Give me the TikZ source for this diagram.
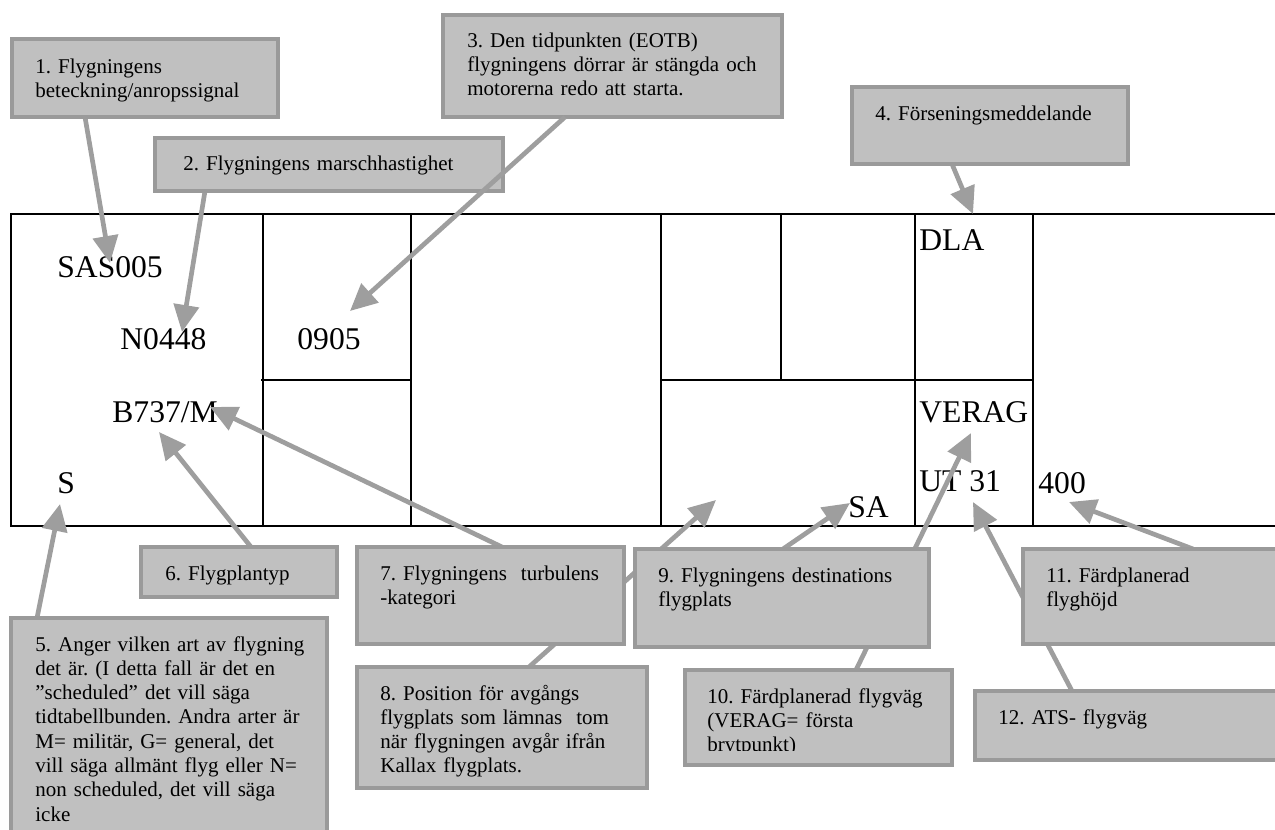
\documentclass[tikz,border=0pt]{standalone}
\usepackage{fontspec}
\setmainfont{Liberation Serif}
\usetikzlibrary{arrows.meta,calc}
\frenchspacing
\definecolor{boxfill}{HTML}{C0C0C0}
\definecolor{boxedge}{HTML}{9A9A9A}
\definecolor{linkgray}{HTML}{9E9E9E}
\pgfdeclarelayer{strip}
\pgfdeclarelayer{links}
\pgfsetlayers{strip,links,main}
\tikzset{
  grid/.style={line width=1pt, black},
  cell/.style={anchor=base west, inner sep=0pt, font=\fontsize{15.8pt}{18pt}\selectfont},
  box/.style={draw=boxedge, fill=boxfill, line width=2pt, inner sep=0pt, outer sep=0pt, anchor=north west},
  note/.style={anchor=base west, inner sep=0pt, align=left, text width=170pt,
    font=\fontsize{10.5pt}{12.15pt}\selectfont},
  link/.style={draw=linkgray, line width=2.35pt, -{Triangle[length=13.5pt,width=12.5pt]}},
}
% callout box given by its corners (x1,y1) and (x2,y2)
\newcommand\calloutbox[5]{\node[box, minimum width={(#4-#2)*0.5pt}, minimum height={(#5-#3)*0.5pt}] (#1) at (#2,#3) {};}
\begin{document}
\begin{tikzpicture}[x=0.5pt, y=-0.5pt]
\useasboundingbox (0,0) rectangle (1275,830);

% flight progress strip
\begin{pgfonlayer}{strip}
  \draw[grid] (1300,214) -- (11,214) -- (11,526) -- (1300,526);
  \foreach \x in {263,411,661,915,1033} \draw[grid] (\x,214) -- (\x,526);
  \draw[grid] (781,214) -- (781,380);
  \draw[grid] (261,380) -- (411,380);
  \draw[grid] (661,380) -- (1033,380);
  \node[cell] (sas)  at (57,277)   {SAS005};
  \node[cell] (spd)  at (120,349)  {N0448};
  \node[cell] (eobt) at (297,349)  {0905};
  \node[cell] (typ)  at (112,422)  {B737/M};
  \node[cell] (flt)  at (57,493)   {S};
  \node[cell] (dla)  at (919,250)  {DLA};
  \node[cell] (rte)  at (919,422)  {VERAG};
  \node[cell] (ats)  at (919,491)  {UT 31};
  \node[cell] (lvl)  at (1038,493) {400};
  \node[cell] (dst)  at (848,517)  {SA};
\end{pgfonlayer}

% arrow targets
\coordinate (p1)  at (110,263);
\coordinate (p2)  at (182,332);
\coordinate (p3)  at (350,311);
\coordinate (p4)  at (973,214);
\coordinate (p5)  at (60,504);
\coordinate (p6)  at (159,432);
\coordinate (p7)  at (210,407);
\coordinate (p8)  at (716,500);
\coordinate (p9)  at (850,503);
\coordinate (p10) at (971,433);
\coordinate (p11) at (1069,502);
\coordinate (p12) at (973,502);

% callout boxes
\calloutbox{b1}{12}{39}{278}{117}
\calloutbox{b2}{155}{138}{503}{191}
\calloutbox{b3}{443}{15}{782}{117}
\calloutbox{b4}{852}{87}{1128}{164}
\calloutbox{b5}{11}{618}{327}{850}
\calloutbox{b6}{141}{547}{337}{597}
\calloutbox{b7}{357}{547}{624}{644}
\calloutbox{b8}{357}{667}{647}{788}
\calloutbox{b9}{635}{549}{929}{647}
\calloutbox{b10}{685}{670}{952}{765}
\calloutbox{b11}{1023}{549}{1300}{644}
\calloutbox{b12}{975}{691}{1300}{760}

% connectors behind the boxes
\begin{pgfonlayer}{links}
  \draw[link] ($(b1.south west)+(73,0)$)  -- (p1);
  \draw[link] ($(b2.south west)+(50,0)$)  -- (p2);
  \draw[link] ($(b4.south west)+(100,0)$) -- (p4);
  \draw[link] ($(b5.north west)+(26,0)$)  -- (p5);
  \draw[link] ($(b6.north west)+(110,0)$) -- (p6);
  \draw[link] ($(b7.north west)+(145,0)$) -- (p7);
  \draw[link] ($(b8.north west)+(172,0)$) -- (p8);
  \draw[link] ($(b9.north west)+(148,0)$) -- (p9);
  \draw[link] ($(b10.north west)+(171,0)$) -- (p10);
  \draw[link] ($(b11.north west)+(170,0)$) -- (p11);
  \draw[link] ($(b12.north west)+(97,0)$) -- (p12);
\end{pgfonlayer}
% this one runs across box 2
\draw[link] ($(b3.south west)+(122,0)$) -- (p3);

% callout texts
\node[note] (t1) at ($(b1.north west)+(23,34)$) {1. Flygningens\\beteckning/anropssignal};
\node[note] (t2) at ($(b2.north west)+(28,32)$) {2. Flygningens marschhastighet};
\node[note] (t3) at ($(b3.north west)+(24,32)$) {3. Den tidpunkten (EOTB)\\flygningens dörrar är stängda och\\motorerna redo att starta.};
\node[note] (t4) at ($(b4.north west)+(23,33)$) {4. Förseningsmeddelande};
\node[note] (t5) at ($(b5.north west)+(24,33)$) {5. Anger vilken art av flygning\\det är. (I detta fall är det en\\”scheduled” det vill säga\\tidtabellbunden. Andra arter är\\M= militär, G= general, det\\vill säga allmänt flyg eller N=\\non scheduled, det vill säga\\icke};
\node[note] (t6) at ($(b6.north west)+(24,33)$) {6. Flygplantyp};
\node[note] (t7) at ($(b7.north west)+(23,33)$) {7. Flygningens\ \ turbulens\\-kategori};
\node[note] (t8) at ($(b8.north west)+(23,33)$) {8. Position för avgångs\\flygplats som lämnas\ \ tom\\när flygningen avgår ifrån\\Kallax flygplats.};
\node[note] (t9) at ($(b9.north west)+(23,33)$) {9. Flygningens destinations\\flygplats};
\begin{scope}
  \clip (685,670) rectangle (952,750);
  \node[note] (t10) at ($(b10.north west)+(22,33)$) {10. Färdplanerad flygväg\\(VERAG= första\\brytpunkt)};
\end{scope}
\node[note] (t11) at ($(b11.north west)+(23,33)$) {11. Färdplanerad\\flyghöjd};
\node[note] (t12) at ($(b12.north west)+(23,33)$) {12. ATS- flygväg};
\end{tikzpicture}
\end{document}
